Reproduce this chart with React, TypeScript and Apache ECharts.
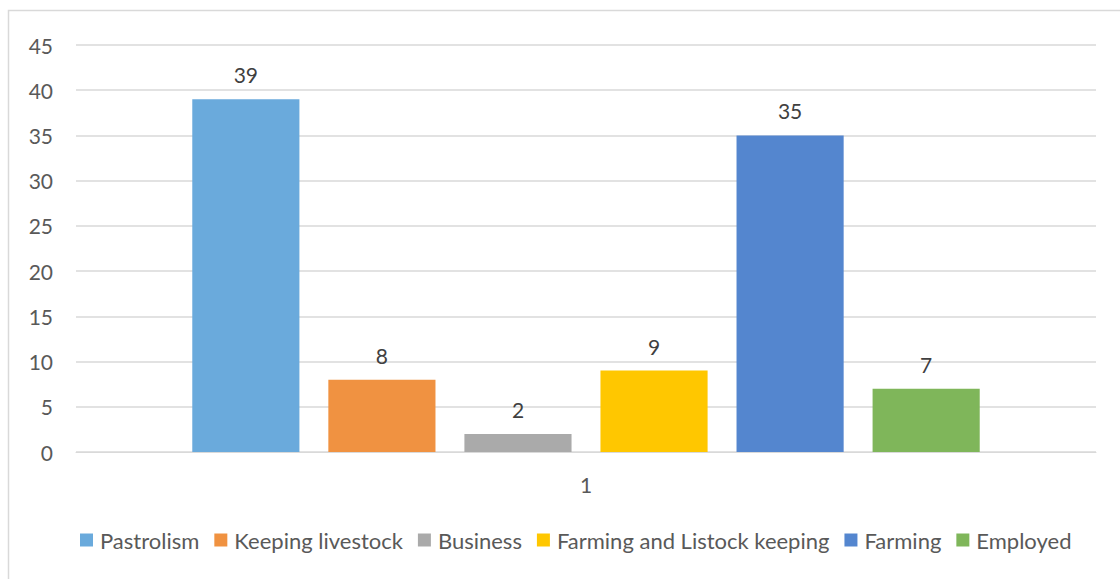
import React, { useEffect, useRef } from "react";
import * as echarts from "echarts";

const categories = ["1"];
const seriesNames = ["Pastrolism", "Keeping livestock", "Business", "Farming and Listock keeping", "Farming", "Employed"];
const seriesValues = [39, 8, 2, 9, 35, 7];
const seriesColors = ["#6aaadc", "#f09241", "#aaaaaa", "#ffc700", "#5486cf", "#7fb65a"];
const yTicks = { min: 0, max: 45, interval: 5 };

const FONT = "Lato, 'Open Sans', sans-serif";

export default function App() {
  const ref = useRef<HTMLDivElement>(null);
  useEffect(() => {
    if (!ref.current) return;
    const chart = echarts.init(ref.current, null, { renderer: "svg" });
    chart.setOption({
      animation: false,
      backgroundColor: "#ffffff",
      textStyle: { fontFamily: FONT },
      graphic: [
        {
          type: "rect",
          shape: { x: 8.5, y: 10.5, width: 1130, height: 590 },
          style: { fill: "none", stroke: "#d9d9d9", lineWidth: 1.5 },
          silent: true,
        },
      ],
      grid: { left: 76, right: 24, top: 45, bottom: 127, containLabel: false },
      legend: {
        bottom: 28,
        left: 80,
        padding: 0,
        itemWidth: 13,
        itemHeight: 13,
        itemGap: 15,
        icon: "rect",
        textStyle: { color: "#595959", fontSize: 22, fontFamily: FONT, padding: [0, 0, 0, 2] },
        data: seriesNames,
      },
      xAxis: {
        type: "category",
        data: categories,
        axisLine: { show: true, lineStyle: { color: "#d9d9d9", width: 1 } },
        axisTick: { show: false },
        axisLabel: { color: "#595959", fontSize: 21, margin: 22, fontFamily: FONT },
      },
      yAxis: {
        type: "value",
        min: yTicks.min,
        max: yTicks.max,
        interval: yTicks.interval,
        axisLine: { show: false },
        axisTick: { show: false },
        splitLine: { lineStyle: { color: "#d9d9d9", width: 1.5 } },
        axisLabel: { color: "#595959", fontSize: 21, margin: 23, fontFamily: FONT },
      },
      series: seriesNames.map((name, i) => ({
        name,
        type: "bar",
        data: [seriesValues[i]],
        itemStyle: { color: seriesColors[i] },
        barGap: "27%",
        barCategoryGap: "22.8%",
        label: {
          show: true,
          position: "top",
          distance: 14,
          color: "#404040",
          fontSize: 21,
          fontFamily: FONT,
        },
      })),
    });
    return () => chart.dispose();
  }, []);
  return (
    <div
      ref={ref}
      style={{ position: "absolute", left: 0, top: 0, width: 1120, height: 579 }}
    />
  );
}
